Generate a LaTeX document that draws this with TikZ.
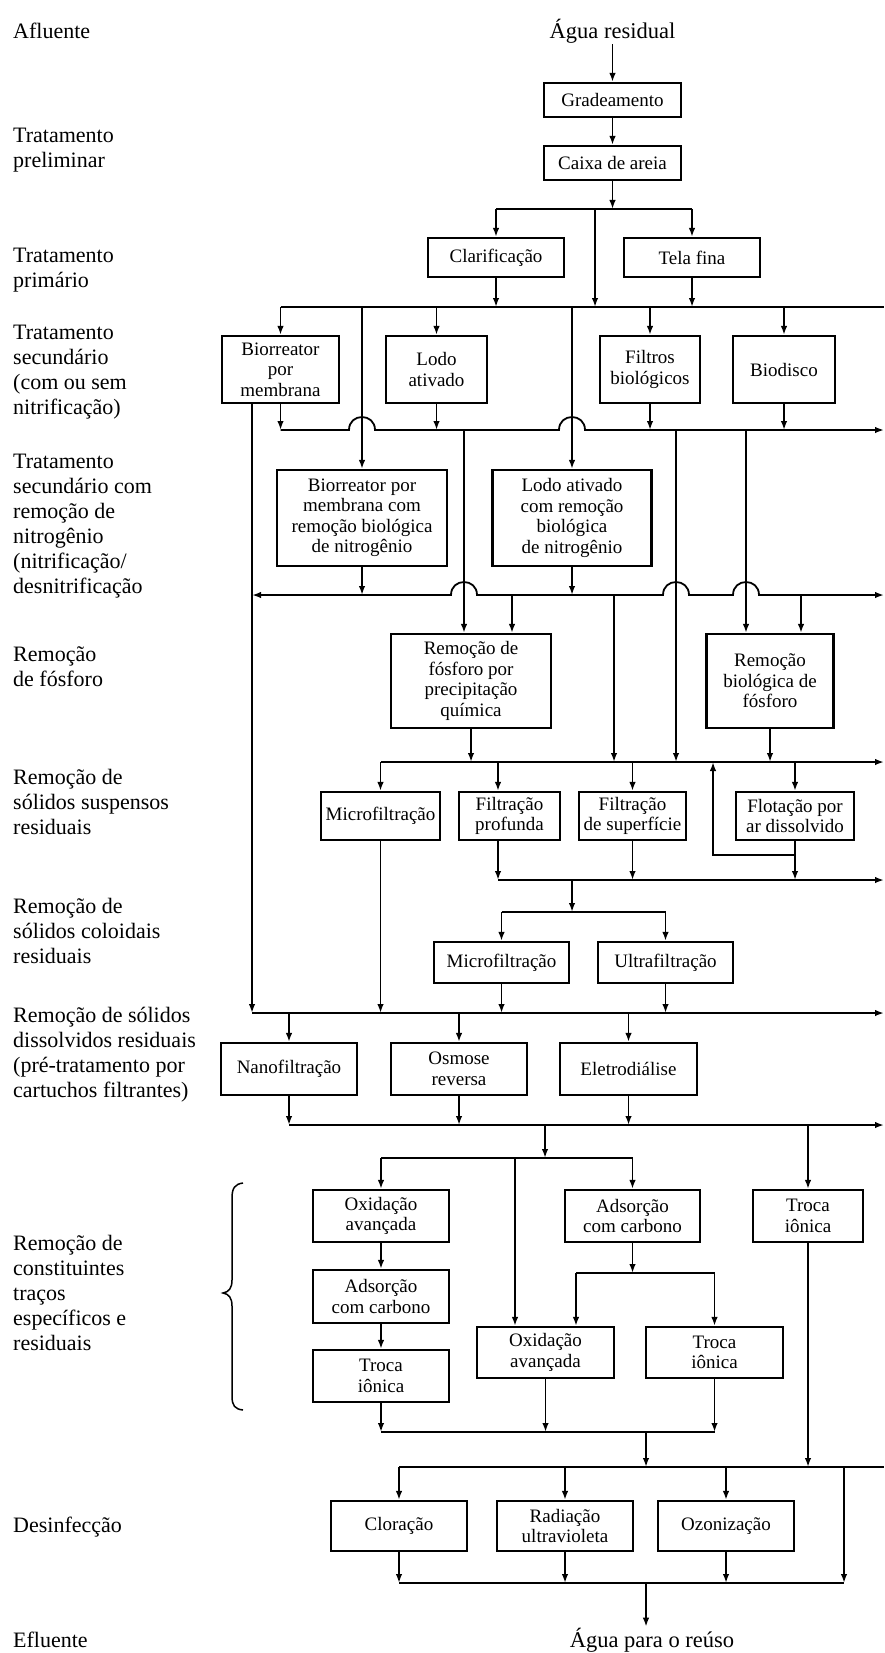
\documentclass[tikz,border=0pt]{standalone}
\usepackage{fontspec}
\setmainfont{Liberation Serif}
\usetikzlibrary{arrows.meta,calc}
\newcommand\boxfont{\fontsize{19}{20.5}\selectfont}
\newcommand\lblfont{\fontsize{22}{25}\selectfont}
\newcommand\ioaguafont{\fontsize{22.5}{24}\selectfont}
\begin{document}
\begin{tikzpicture}[x=1pt,y=-1pt,
  box/.style={draw, line width=2.1pt, align=center, inner sep=1pt, font=\boxfont},
  bw/.style={minimum width=#1pt}, bh/.style={minimum height=#1pt},
  ln/.style={line width=1.8pt},
  arr/.style={ln, -{Latex[length=9pt,width=6.5pt]}},
  lbl/.style={anchor=west, align=left, font=\lblfont, inner sep=0pt},
  endtxt/.style={font=\ioaguafont, inner sep=1pt}]
\fill[white] (0,0) rectangle (885,1653);
\useasboundingbox (0,0) rectangle (885,1653);

% bus levels
\coordinate (b1) at (0,209);
\coordinate (b2) at (0,307);
\coordinate (b3) at (0,430);
\coordinate (b4) at (0,595);
\coordinate (b5) at (0,762);
\coordinate (yrc) at (0,855);
\coordinate (b6) at (0,880);
\coordinate (b7) at (0,912);
\coordinate (b9) at (0,1013);
\coordinate (b10) at (0,1125);
\coordinate (b11) at (0,1158);
\coordinate (b12) at (0,1273);
\coordinate (b13) at (0,1432);
\coordinate (b14) at (0,1467);
\coordinate (b15) at (0,1583);
% vertical runs
\coordinate (xr) at (884,0);
\coordinate (xbp) at (595,0);
\coordinate (xl) at (252,0);
\coordinate (xa) at (464,0);
\coordinate (xb) at (676,0);
\coordinate (xc) at (746,0);
\coordinate (xd) at (512,0);
\coordinate (xe) at (614,0);
\coordinate (xf) at (801,0);
\coordinate (xfp) at (498,0);
\coordinate (xrc) at (713,0);
\coordinate (xg) at (572,0);
\coordinate (xh) at (545,0);
\coordinate (xj) at (515,0);
\coordinate (xk) at (576,0);
\coordinate (xm) at (646,0);
\coordinate (xn) at (844,0);

% stage labels
\node[lbl] (l1) at (13,31) {Afluente};
\node[lbl] (l2) at (13,150) {Tratamento\\preliminar};
\node[lbl] (l3) at (13,270) {Tratamento\\primário};
\node[lbl] (l4) at (13,372) {Tratamento\\secundário\\(com ou sem\\nitrificação)};
\node[lbl] (l5) at (13,526) {Tratamento\\secundário com\\remoção de\\nitrogênio\\(nitrificação/\\desnitrificação};
\node[lbl] (l6) at (13,667) {Remoção\\de fósforo};
\node[lbl] (l7) at (13,802) {Remoção de\\sólidos suspensos\\residuais};
\node[lbl] (l8) at (13,931) {Remoção de\\sólidos coloidais\\residuais};
\node[lbl] (l9) at (13,1055) {Remoção de sólidos\\dissolvidos residuais\\(pré-tratamento por\\cartuchos filtrantes)};
\node[lbl] (l10) at (13,1293) {Remoção de\\constituintes\\traços\\específicos e\\residuais};
\node[lbl] (l11) at (13,1527) {Desinfecção};
\node[lbl] (l12) at (13,1640) {Efluente};

% process boxes
\node[endtxt] (agua) at (612.5,31) {Água residual};
\node[box,bw=137,bh=34] (grad) at (612.5,100) {Gradeamento};
\node[box,bw=137,bh=34] (caixa) at (612.5,163) {Caixa de areia};
\node[box,bw=136,bh=39] (clar) at (496,257.5) {Clarificação};
\node[box,bw=136,bh=39] (tela) at (692,257.5) {Tela fina};
\node[box,bw=117,bh=67] (bio) at (280.5,369.5) {Biorreator\\por\\membrana};
\node[box,bw=101,bh=67] (lodo) at (436.5,369.5) {Lodo\\ativado};
\node[box,bw=100,bh=67] (filt) at (650,369.5) {Filtros\\biológicos};
\node[box,bw=102,bh=67] (bdis) at (784,369.5) {Biodisco};
\node[box,bw=170,bh=96] (bioN) at (362,518) {Biorreator por\\membrana com\\remoção biológica\\de nitrogênio};
\node[box,bw=159,bh=96] (lodoN) at (572,518) {Lodo ativado\\com remoção\\biológica\\de nitrogênio};
\node[box,bw=160,bh=94] (pchem) at (471,681) {Remoção de\\fósforo por\\precipitação\\química};
\node[box,bw=127,bh=94] (pbio) at (770,681) {Remoção\\biológica de\\fósforo};
\node[box,bw=119,bh=48] (mf1) at (380.5,816) {Microfiltração};
\node[box,bw=101,bh=48] (fprof) at (509.5,816) {Filtração\\profunda};
\node[box,bw=107,bh=48] (fsup) at (632.5,816) {Filtração\\de superfície};
\node[box,bw=118,bh=48] (flot) at (795,816) {Flotação por\\ar dissolvido};
\node[box,bw=135,bh=41] (mf2) at (501.5,962.5) {Microfiltração};
\node[box,bw=135,bh=41] (uf) at (665.5,962.5) {Ultrafiltração};
\node[box,bw=136,bh=52] (nano) at (289,1069) {Nanofiltração};
\node[box,bw=136,bh=52] (osm) at (459,1069) {Osmose\\reversa};
\node[box,bw=137,bh=52] (elet) at (628.5,1069) {Eletrodiálise};
\node[box,bw=136,bh=52] (oxi1) at (381,1216) {Oxidação\\avançada};
\node[box,bw=135,bh=52] (ads1) at (632.5,1216) {Adsorção\\com carbono};
\node[box,bw=110,bh=52] (troca1) at (808,1216) {Troca\\iônica};
\node[box,bw=136,bh=53] (ads2) at (381,1296.5) {Adsorção\\com carbono};
\node[box,bw=136,bh=52] (troca2) at (381,1376) {Troca\\iônica};
\node[box,bw=137,bh=51] (oxi2) at (545.5,1352.5) {Oxidação\\avançada};
\node[box,bw=137,bh=51] (troca3) at (714.5,1352.5) {Troca\\iônica};
\node[box,bw=136,bh=50] (clor) at (399,1526) {Cloração};
\node[box,bw=136,bh=50] (rad) at (565,1526) {Radiação\\ultravioleta};
\node[box,bw=136,bh=50] (ozon) at (726,1526) {Ozonização};
\node[endtxt] (reuso) at (652,1640) {Água para o reúso};

% preliminary and primary treatment
\draw[arr] (agua) -- (grad);
\draw[arr] (grad) -- (caixa);
\draw[arr] (caixa) -- (caixa |- b1);
\draw[ln] (clar |- b1) -- (tela |- b1);
\draw[arr] (clar |- b1) -- (clar);
\draw[arr] (tela |- b1) -- (tela);
\draw[arr] (xbp |- b1) -- (xbp |- b2);
\draw[arr] (clar) -- (clar |- b2);
\draw[arr] (tela) -- (tela |- b2);

% secondary treatment
\draw[ln] (bio |- b2) -- (xr |- b2);
\foreach \n in {bio,lodo,filt,bdis} \draw[arr] (\n |- b2) -- (\n);
\draw[arr] (bioN |- b2) -- (bioN);
\draw[arr] (lodoN |- b2) -- (lodoN);
\draw[arr] (bio |- b3) -- ($(bioN |- b3)+(-13,0)$)
  .. controls +(0,-17.3) and +(0,-17.3) .. ($(bioN |- b3)+(13,0)$)
  -- ($(lodoN |- b3)+(-13,0)$)
  .. controls +(0,-17.3) and +(0,-17.3) .. ($(lodoN |- b3)+(13,0)$)
  -- (xr |- b3);
\foreach \n in {bio,lodo,filt,bdis} \draw[arr] (\n) -- (\n |- b3);
\draw[arr] (xl |- bio.south) -- (xl |- b9);

% nitrogen removal
\draw[arr] (xa |- b3) -- (xa |- pchem.north);
\draw[arr] (xb |- b3) -- (xb |- b5);
\draw[arr] (xc |- b3) -- (xc |- pbio.north);
\draw[arr] (bioN) -- (bioN |- b4);
\draw[arr] (lodoN) -- (lodoN |- b4);
\draw[ln, {Latex[length=9pt,width=6.5pt]}-{Latex[length=9pt,width=6.5pt]}]
  (xl |- b4) -- ($(xa |- b4)+(-13,0)$)
  .. controls +(0,-17.3) and +(0,-17.3) .. ($(xa |- b4)+(13,0)$)
  -- ($(xb |- b4)+(-13,0)$)
  .. controls +(0,-17.3) and +(0,-17.3) .. ($(xb |- b4)+(13,0)$)
  -- ($(xc |- b4)+(-13,0)$)
  .. controls +(0,-17.3) and +(0,-17.3) .. ($(xc |- b4)+(13,0)$)
  -- (xr |- b4);
\draw[arr] (xd |- b4) -- (xd |- pchem.north);
\draw[arr] (xe |- b4) -- (xe |- b5);
\draw[arr] (xf |- b4) -- (xf |- pbio.north);

% phosphorus removal and suspended solids
\draw[arr] (pchem) -- (pchem |- b5);
\draw[arr] (pbio) -- (pbio |- b5);
\draw[arr] (mf1 |- b5) -- (xr |- b5);
\draw[arr] (mf1 |- b5) -- (mf1);
\draw[arr] (xfp |- b5) -- (xfp |- fprof.north);
\draw[arr] (fsup |- b5) -- (fsup);
\draw[arr] (flot |- b5) -- (flot);
\draw[arr] (flot |- yrc) -| (xrc |- b5);
\draw[arr] (flot) -- (flot |- b6);
\draw[arr] (xfp |- fprof.south) -- (xfp |- b6);
\draw[arr] (fsup) -- (fsup |- b6);
\draw[arr] (xfp |- b6) -- (xr |- b6);
\draw[arr] (mf1) -- (mf1 |- b9);

% colloidal solids
\draw[arr] (xg |- b6) -- (xg |- b7);
\draw[ln] (mf2 |- b7) -- (uf |- b7);
\draw[arr] (mf2 |- b7) -- (mf2);
\draw[arr] (uf |- b7) -- (uf);
\draw[arr] (mf2) -- (mf2 |- b9);
\draw[arr] (uf) -- (uf |- b9);

% dissolved solids
\draw[arr] (xl |- b9) -- (xr |- b9);
\foreach \n in {nano,osm,elet} {
  \draw[arr] (\n |- b9) -- (\n);
  \draw[arr] (\n) -- (\n |- b10);
}
\draw[arr] (nano |- b10) -- (xr |- b10);

% trace constituents
\draw[arr] (xh |- b10) -- (xh |- b11);
\draw[arr] (troca1 |- b10) -- (troca1);
\draw[ln] (oxi1 |- b11) -- (ads1 |- b11);
\draw[arr] (oxi1 |- b11) -- (oxi1);
\draw[arr] (ads1 |- b11) -- (ads1);
\draw[arr] (xj |- b11) -- (xj |- oxi2.north);
\draw[arr] (oxi1) -- (ads2);
\draw[arr] (ads2) -- (troca2);
\draw[arr] (ads1) -- (ads1 |- b12);
\draw[ln] (xk |- b12) -- (troca3 |- b12);
\draw[arr] (xk |- b12) -- (xk |- oxi2.north);
\draw[arr] (troca3 |- b12) -- (troca3);
\draw[arr] (troca2) -- (troca2 |- b13);
\draw[arr] (oxi2) -- (oxi2 |- b13);
\draw[arr] (troca3) -- (troca3 |- b13);
\draw[ln] (troca2 |- b13) -- (troca3 |- b13);
\draw[arr] (xm |- b13) -- (xm |- b14);
\draw[arr] (troca1) -- (troca1 |- b14);
\draw[line width=1.5pt] (243,1183) .. controls (235,1184) and (232,1188) .. (232,1198)
  -- (232,1280) .. controls (232,1288) and (229,1292) .. (223,1293)
  .. controls (229,1294) and (232,1298) .. (232,1306)
  -- (232,1396) .. controls (232,1406) and (235,1409) .. (243,1410);

% disinfection
\draw[ln] (clor |- b14) -- (xr |- b14);
\foreach \n in {clor,rad,ozon} {
  \draw[arr] (\n |- b14) -- (\n);
  \draw[arr] (\n) -- (\n |- b15);
}
\draw[arr] (xn |- b14) -- (xn |- b15);
\draw[ln] (clor |- b15) -- (xn |- b15);
\draw[arr] (xm |- b15) -- (xm |- reuso.north);
\end{tikzpicture}
\end{document}
